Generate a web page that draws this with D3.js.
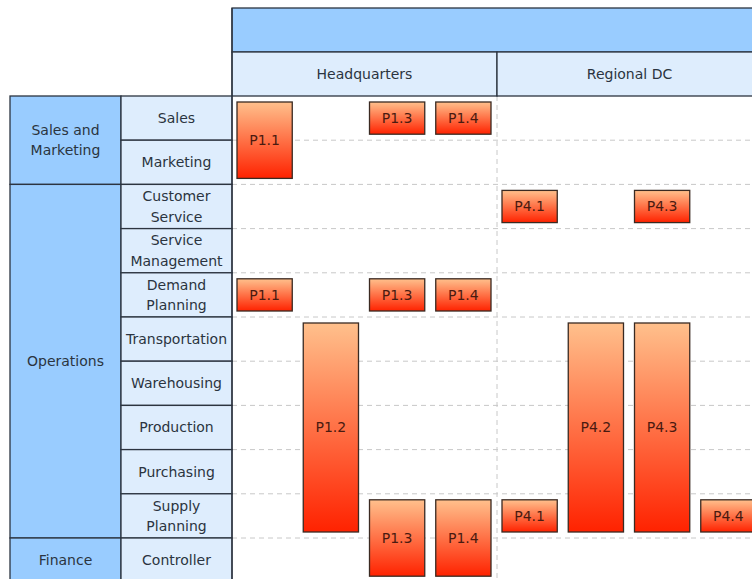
<!DOCTYPE html>
<html>
<head>
<meta charset="utf-8">
<script src="https://cdn.jsdelivr.net/npm/d3@7"></script>
<style>
  body { margin: 0; background: #fff; }
  svg { display: block; font-family: "DejaVu Sans", sans-serif; }
</style>
</head>
<body>
<svg width="752" height="579"></svg>
<script>
// locations (columns) and functional rows
var columns = ['Headquarters', 'Regional DC']
var slots = [0, 1, 2, 3]
var rows = ['Sales', 'Marketing', 'Customer Service', 'Service Management',
  'Demand Planning', 'Transportation', 'Warehousing', 'Production',
  'Purchasing', 'Supply Planning', 'Controller']
var groups = [
  { name: 'Sales and Marketing', first: 'Sales', last: 'Marketing' },
  { name: 'Operations', first: 'Customer Service', last: 'Supply Planning' },
  { name: 'Finance', first: 'Controller', last: 'Controller' }
]
// process steps: column, slot inside column, first and last row covered
var processes = [
  { label: 'P1.1', col: 'Headquarters', slot: 0, from: 'Sales', to: 'Marketing' },
  { label: 'P1.3', col: 'Headquarters', slot: 2, from: 'Sales', to: 'Sales' },
  { label: 'P1.4', col: 'Headquarters', slot: 3, from: 'Sales', to: 'Sales' },
  { label: 'P1.1', col: 'Headquarters', slot: 0, from: 'Demand Planning', to: 'Demand Planning' },
  { label: 'P1.3', col: 'Headquarters', slot: 2, from: 'Demand Planning', to: 'Demand Planning' },
  { label: 'P1.4', col: 'Headquarters', slot: 3, from: 'Demand Planning', to: 'Demand Planning' },
  { label: 'P1.2', col: 'Headquarters', slot: 1, from: 'Transportation', to: 'Supply Planning' },
  { label: 'P1.3', col: 'Headquarters', slot: 2, from: 'Supply Planning', to: 'Controller' },
  { label: 'P1.4', col: 'Headquarters', slot: 3, from: 'Supply Planning', to: 'Controller' },
  { label: 'P4.1', col: 'Regional DC', slot: 0, from: 'Customer Service', to: 'Customer Service' },
  { label: 'P4.3', col: 'Regional DC', slot: 2, from: 'Customer Service', to: 'Customer Service' },
  { label: 'P4.1', col: 'Regional DC', slot: 0, from: 'Supply Planning', to: 'Supply Planning' },
  { label: 'P4.2', col: 'Regional DC', slot: 1, from: 'Transportation', to: 'Supply Planning' },
  { label: 'P4.3', col: 'Regional DC', slot: 2, from: 'Transportation', to: 'Supply Planning' },
  { label: 'P4.4', col: 'Regional DC', slot: 3, from: 'Supply Planning', to: 'Supply Planning' }
]

var cfg = {
  left: 10, groupW: 111, labelW: 111,
  gridX: 232, colW: 265,
  top: 8, headH: 44,
  rowTop: 96, rowH: 44.2,
  pad: 6,
  fontSize: 14,
  lineGap: 1.45,
  border: '#2c3440',
  dark: '#99ccff',
  light: '#deedfd'
}

var svg = d3.select('svg')

var x = d3.scaleBand().domain(columns)
  .range([cfg.gridX, cfg.gridX + cfg.colW * columns.length])
var xs = d3.scaleBand().domain(slots).range([0, x.bandwidth()])
var y = d3.scaleBand().domain(rows)
  .range([cfg.rowTop, cfg.rowTop + cfg.rowH * rows.length])

var gridRight = x.range()[1]
var gridBottom = y.range()[1]

// gradient for the process boxes
var grad = svg.append('defs').append('linearGradient')
    .attr('id', 'boxGrad')
    .attr('x1', 0).attr('y1', 0).attr('x2', 0).attr('y2', 1)
grad.append('stop').attr('offset', '0%').attr('stop-color', '#ffc08c')
grad.append('stop').attr('offset', '100%').attr('stop-color', '#ff2200')

// dashed lane lines
svg.append('g').selectAll('line')
  .data(rows.slice(1).map(r => y(r)).concat([gridBottom]))
  .enter().append('line')
    .attr('x1', cfg.gridX).attr('x2', gridRight)
    .attr('y1', d => d).attr('y2', d => d)
    .attr('stroke', '#c8c8c8')
    .attr('stroke-dasharray', '5,4')

svg.append('g').selectAll('line')
  .data(columns.slice(1))
  .enter().append('line')
    .attr('x1', d => x(d)).attr('x2', d => x(d))
    .attr('y1', cfg.rowTop).attr('y2', gridBottom)
    .attr('stroke', '#c8c8c8')
    .attr('stroke-dasharray', '5,4')

// header bars
svg.append('rect')
    .attr('x', cfg.gridX).attr('y', cfg.top)
    .attr('width', gridRight - cfg.gridX).attr('height', cfg.headH)
    .attr('fill', cfg.dark).attr('stroke', cfg.border).attr('stroke-width', 1.3)

var head = svg.append('g').selectAll('g')
  .data(columns)
  .enter().append('g')

head.append('rect')
    .attr('x', d => x(d)).attr('y', cfg.top + cfg.headH)
    .attr('width', x.bandwidth()).attr('height', cfg.rowTop - cfg.top - cfg.headH)
    .attr('fill', cfg.light).attr('stroke', cfg.border).attr('stroke-width', 1.3)

head.append('text')
    .attr('x', d => x(d) + x.bandwidth() / 2)
    .attr('y', (cfg.top + cfg.headH + cfg.rowTop) / 2)
    .attr('text-anchor', 'middle').attr('dy', '0.35em')
    .attr('font-size', cfg.fontSize).attr('fill', '#2b3440')
    .text(d => d)

// multi-line centred label
function multiline (sel, cx, lines) {
  lines.forEach(function (l, i) {
    sel.append('tspan')
      .attr('x', cx)
      .attr('dy', i === 0 ? (0.35 - (lines.length - 1) * cfg.lineGap / 2) + 'em' : cfg.lineGap + 'em')
      .text(l)
  })
}

// group column
var grp = svg.append('g').selectAll('g')
  .data(groups)
  .enter().append('g')

grp.append('rect')
    .attr('x', cfg.left).attr('y', d => y(d.first))
    .attr('width', cfg.groupW)
    .attr('height', d => y(d.last) + y.bandwidth() - y(d.first))
    .attr('fill', cfg.dark).attr('stroke', cfg.border).attr('stroke-width', 1.3)

grp.append('text')
    .attr('y', d => (y(d.first) + y(d.last) + y.bandwidth()) / 2)
    .attr('text-anchor', 'middle')
    .attr('font-size', cfg.fontSize).attr('fill', '#2b3440')
    .each(function (d) {
      var w = d.name.split(' ')
      var lines = w.length > 2 ? [w.slice(0, -1).join(' '), w[w.length - 1]] : w
      multiline(d3.select(this), cfg.left + cfg.groupW / 2, lines)
    })

// row label column
var lab = svg.append('g').selectAll('g')
  .data(rows)
  .enter().append('g')

lab.append('rect')
    .attr('x', cfg.left + cfg.groupW).attr('y', d => y(d))
    .attr('width', cfg.labelW).attr('height', y.bandwidth())
    .attr('fill', cfg.light).attr('stroke', cfg.border).attr('stroke-width', 1.3)

lab.append('text')
    .attr('text-anchor', 'middle')
    .attr('font-size', cfg.fontSize).attr('fill', '#2b3440')
    .attr('y', d => y(d) + y.bandwidth() / 2)
    .each(function (d) {
      multiline(d3.select(this), cfg.left + cfg.groupW + cfg.labelW / 2, d.split(' '))
    })

// left border of the grid
svg.append('line')
    .attr('x1', cfg.gridX).attr('x2', cfg.gridX)
    .attr('y1', cfg.top).attr('y2', gridBottom)
    .attr('stroke', cfg.border).attr('stroke-width', 1.3)

// process boxes
var box = svg.append('g').selectAll('g')
  .data(processes)
  .enter().append('g')
    .attr('transform', d => `translate(${x(d.col) + xs(d.slot)}, ${y(d.from)})`)

function boxH (d) {
  return y(d.to) + y.bandwidth() - y(d.from) - cfg.pad * 2
}

box.append('rect')
    .attr('x', 5).attr('y', cfg.pad)
    .attr('width', xs.bandwidth() - 11)
    .attr('height', boxH)
    .attr('fill', 'url(#boxGrad)')
    .attr('stroke', '#3a2a22').attr('stroke-width', 1.3)

box.append('text')
    .attr('x', 5 + (xs.bandwidth() - 11) / 2)
    .attr('y', d => cfg.pad + boxH(d) / 2)
    .attr('text-anchor', 'middle').attr('dy', '0.35em')
    .attr('font-size', cfg.fontSize).attr('fill', '#4a1a10')
    .text(d => d.label)
</script>
</body>
</html>
